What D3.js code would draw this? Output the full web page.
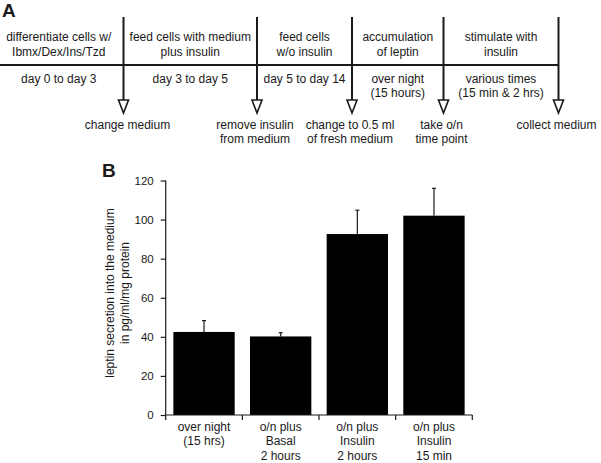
<!DOCTYPE html>
<html><head><meta charset="utf-8">
<script src="https://cdn.jsdelivr.net/npm/d3@7"></script>
<style>body{margin:0;background:#fff}svg{display:block}text{font-family:"Liberation Sans",Arial,sans-serif;fill:#1a1a1a}</style>
</head><body>
<script>
// ---- Panel A data ----
const segmentTop = [["differentiate cells w/","Ibmx/Dex/Ins/Tzd"],["feed cells with medium","plus insulin"],["feed cells","w/o insulin"],["accumulation","of leptin"],["stimulate with","insulin"]];
const segmentBottom = [["day 0 to day 3"],["day 3 to day 5"],["day 5 to day 14"],["over night","(15 hours)"],["various times","(15 min & 2 hrs)"]];
const arrowLabels = [["change medium"],["remove insulin","from medium"],["change to 0.5 ml","of fresh medium"],["take o/n","time point"],["collect medium"]];
// ---- Panel B data ----
const categories = [["over night","(15 hrs)"],["o/n plus","Basal","2 hours"],["o/n plus","Insulin","2 hours"],["o/n plus","Insulin","15 min"]];
const values = [42.5, 40.2, 92.6, 102];
const errors = [5.8, 1.9, 12.2, 14];
const yTicks = [0,20,40,60,80,100,120];

// ---- layout ----
const W=601,H=463;
const svg=d3.select("body").append("svg").attr("width",W).attr("height",H);
const ink="#1a1a1a";

// Panel A
const bounds=[0,123.5,257,352,443.5,558.5];
const lineY=65;
svg.append("text").attr("x",2).attr("y",17).attr("font-size",19).attr("font-weight","bold").text("A");
svg.append("line").attr("x1",bounds[0]).attr("x2",bounds[5]).attr("y1",lineY).attr("y2",lineY).attr("stroke",ink).attr("stroke-width",2);
const arrows=bounds.slice(1);
arrows.forEach((x,i)=>{
  svg.append("line").attr("x1",x).attr("x2",x).attr("y1",17).attr("y2",111).attr("stroke",ink).attr("stroke-width",2);
  svg.append("path").attr("d",`M${x-5},${100}L${x+5},${100}L${x},${113}Z`).attr("fill","#fff").attr("stroke",ink).attr("stroke-width",1.6);
  const t=svg.append("text").attr("text-anchor","middle").attr("font-size",12);
  arrowLabels[i].forEach((s,j)=>t.append("tspan").attr("x",x+(i==0?4:-2)).attr("y",129+j*13.5).text(s));
});
segmentTop.forEach((lines,i)=>{
  const cx=(bounds[i]+bounds[i+1])/2+(i==0?-3:0);
  const t=svg.append("text").attr("text-anchor","middle").attr("font-size",12);
  lines.forEach((s,j)=>t.append("tspan").attr("x",cx).attr("y",41+j*14.5).text(s));
});
segmentBottom.forEach((lines,i)=>{
  const cx=(bounds[i]+bounds[i+1])/2+(i==0?-3:0);
  const t=svg.append("text").attr("text-anchor","middle").attr("font-size",12);
  lines.forEach((s,j)=>t.append("tspan").attr("x",cx).attr("y",83+j*14).text(s));
});

// Panel B
const x0=165.7,x1=472.3,y0=415,yTop=180.5;
const x=d3.scaleBand().domain(d3.range(categories.length)).range([x0,x1]).paddingInner(0.2).paddingOuter(0.1);
const y=d3.scaleLinear().domain([0,120]).range([y0,yTop]);
svg.append("text").attr("x",102).attr("y",177).attr("font-size",19).attr("font-weight","bold").text("B");
const g=svg.append("g");
g.selectAll("rect.bar").data(values).join("rect").attr("class","bar")
  .attr("x",(d,i)=>x(i)).attr("width",x.bandwidth()).attr("y",d=>y(d)).attr("height",d=>y0-y(d)).attr("fill","#000");
g.selectAll("line.err").data(values).join("line").attr("class","err")
  .attr("x1",(d,i)=>x(i)+x.bandwidth()/2).attr("x2",(d,i)=>x(i)+x.bandwidth()/2)
  .attr("y1",d=>y(d)).attr("y2",(d,i)=>y(d+errors[i])).attr("stroke",ink).attr("stroke-width",1.2);
g.selectAll("line.cap").data(values).join("line").attr("class","cap")
  .attr("x1",(d,i)=>x(i)+x.bandwidth()/2-2).attr("x2",(d,i)=>x(i)+x.bandwidth()/2+2)
  .attr("y1",(d,i)=>y(d+errors[i])).attr("y2",(d,i)=>y(d+errors[i])).attr("stroke",ink).attr("stroke-width",1.2);
// y axis
const ya=svg.append("g").attr("transform",`translate(${x0},0)`).call(d3.axisLeft(y).tickValues(yTicks).tickSize(5).tickPadding(7).tickSizeOuter(0));
ya.select(".domain").attr("stroke",ink).attr("stroke-width",1.2).attr("d",`M0,${yTop}V${y0+5}`);
ya.selectAll(".tick line").attr("stroke",ink).attr("stroke-width",1.2);
ya.selectAll(".tick text").attr("font-size",11.5).attr("fill",ink).attr("font-family","Liberation Sans,Arial,sans-serif");
// x axis
const xa=svg.append("g").attr("transform",`translate(0,${y0})`);
xa.append("line").attr("x1",x0).attr("x2",x1).attr("stroke",ink).attr("stroke-width",1.2);
const step=x.step();
const bnds=d3.range(categories.length).map(i=>x(i)+x.bandwidth()+step*0.1);
xa.selectAll("line.t").data(bnds).join("line").attr("class","t").attr("x1",d=>d).attr("x2",d=>d).attr("y1",0).attr("y2",5).attr("stroke",ink).attr("stroke-width",1.2);
categories.forEach((lines,i)=>{
  const t=xa.append("text").attr("text-anchor","middle").attr("font-size",12);
  lines.forEach((s,j)=>t.append("tspan").attr("x",x(i)+x.bandwidth()/2).attr("y",16+j*14.3).text(s));
});
// y label
const yl=svg.append("text").attr("text-anchor","middle").attr("font-size",12).attr("transform","translate(0,293) rotate(-90)");
yl.append("tspan").attr("x",0).attr("y",114).text("leptin secretion into the medium");
yl.append("tspan").attr("x",0).attr("y",129).text("in pg/ml/mg protein");
</script>
</body></html>
